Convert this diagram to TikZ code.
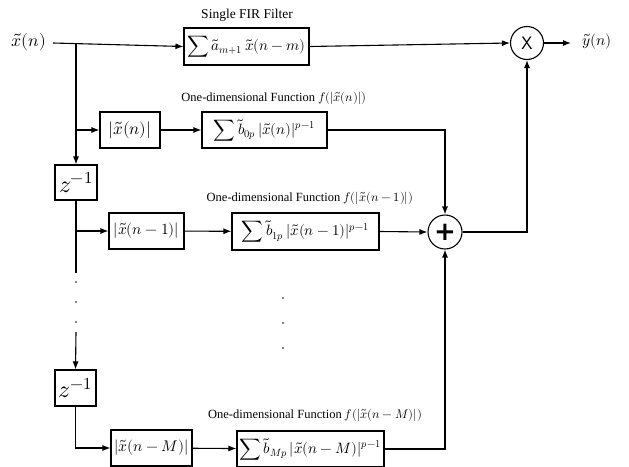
\documentclass[tikz,border=0pt]{standalone}
\usepackage{amsmath}
\usepackage{fontspec}
\usepackage{unicode-math}
\setmainfont{Liberation Serif}
\setmathfont{Latin Modern Math}
\newfontfamily\plusfont{DejaVu Sans}
\usetikzlibrary{arrows.meta,calc}
\begin{document}
\begin{tikzpicture}[x=1pt,y=-1pt,
  line width=1.1pt,
  arr/.style={-{Latex[length=8pt,width=6pt]}},
  blk/.style={draw,rectangle,inner sep=0pt,line width=1.1pt},
  ttl/.style={font=\fontsize{12.5}{14}\selectfont},
  mth/.style={font=\fontsize{15}{17}\selectfont},
  opc/.style={draw,circle,inner sep=0pt,minimum size=33pt,line width=1.1pt},
  dotn/.style={circle,fill,inner sep=0pt,minimum size=1.8pt}]
\useasboundingbox (0,0) rectangle (629,466);
% input / output labels
\node[font=\fontsize{17.5}{18}\selectfont] (xin) at (29,42) {$\tilde{x}(n)$};
\coordinate (in) at (53,43);
\coordinate (j0) at (76,43);
% FIR
\node[blk,minimum width=125pt,minimum height=37pt,mth] (fir) at (246.5,46.5) {$\displaystyle\sum \tilde{a}_{m+1}\,\tilde{x}(n-m)$};
\node[font=\fontsize{13.5}{15}\selectfont] (firt) at (247,15) {Single FIR Filter};
% multiplier
\node[opc,font=\sffamily\fontsize{18}{18}\selectfont] (mult) at (527,43) {X};
\coordinate (yout) at (571,43);
\node[font=\fontsize{15.5}{16}\selectfont] (ylab) at (597,42) {$\tilde{y}(n)$};
% row 0
\node[blk,minimum width=60pt,minimum height=36pt,font=\fontsize{17}{19}\selectfont] (abs0) at (130,130) {$|\tilde{x}(n)|$};
\node[blk,minimum width=125pt,minimum height=36pt,mth] (f0) at (264.5,130) {$\displaystyle\sum \tilde{b}_{0p}\,|\tilde{x}(n)|^{p-1}$};
\node[ttl] (f0t) at (274,98) {One-dimensional Function $f(|\tilde{x}(n)|)$};
\coordinate (b0) at (76,130);
% z^-1 first
\node[blk,minimum width=42pt,minimum height=35pt,font=\fontsize{24}{26}\selectfont] (z1) at (76,182.5) {$z^{\symbf{-}1}$};
% row 1
\coordinate (b1) at (76,231);
\node[blk,minimum width=75pt,minimum height=36pt,font=\fontsize{15.5}{17}\selectfont] (abs1) at (146.5,231) {$|\tilde{x}(n\symbf{-}1)|$};
\node[blk,minimum width=147pt,minimum height=37pt,mth] (f1) at (305.5,231.5) {$\displaystyle\sum \tilde{b}_{1p}\,|\tilde{x}(n-1)|^{p-1}$};
\node[ttl] (f1t) at (310,198) {One-dimensional Function $f(|\tilde{x}(n-1)|)$};
% adder
\node[opc,minimum size=34pt] (plus) at (445,232) {\plusfont\bfseries\fontsize{26}{26}\selectfont +};
% trunk dots
\coordinate (t1) at (76,273);
\node[dotn] (d1) at (76,282) {};
\node[dotn] (d2) at (76,302) {};
\node[dotn] (d3) at (76,322) {};
\coordinate (t2) at (76,332);
% middle dots
\node[dotn] (m1) at (283,298) {};
\node[dotn] (m2) at (283,323) {};
\node[dotn] (m3) at (283,348) {};
% z^-1 second
\node[blk,minimum width=41pt,minimum height=36pt,font=\fontsize{24}{26}\selectfont] (z2) at (75.5,388) {$z^{\symbf{-}1}$};
% row M
\node[blk,minimum width=81pt,minimum height=36pt,font=\fontsize{15.5}{17}\selectfont] (absM) at (151.5,448) {$|\tilde{x}(n\symbf{-}M)|$};
\node[blk,minimum width=147pt,minimum height=36pt,mth] (fM) at (310.5,449) {$\displaystyle\sum \tilde{b}_{Mp}\,|\tilde{x}(n-M)|^{p-1}$};
\node[ttl] (fMt) at (315,415) {One-dimensional Function $f(|\tilde{x}(n-M)|)$};
% connectors
\draw[arr] (in) -- (fir.west);
\draw[arr] (j0) -- (z1.north);
\draw[arr] (b0) -- (abs0.west);
\draw[arr] (abs0) -- (f0);
\draw[arr] (f0.east) -| (plus.north);
\draw (z1.south) -- (t1);
\draw[arr] (b1) -- (abs1.west);
\draw[arr] (abs1) -- (f1);
\draw[arr] (f1.east) -- (plus.west);
\draw[arr] (t2) -- (z2.north);
\draw[arr] (z2.south) |- (absM.west);
\draw[arr] (absM) -- (fM);
\draw[arr] (fM.east) -| (plus.south);
\draw[arr] (fir.east) -- (mult.west);
\draw[arr] (plus.east) -| (mult.south);
\draw[arr] (mult.east) -- (yout);
\end{tikzpicture}
\end{document}
